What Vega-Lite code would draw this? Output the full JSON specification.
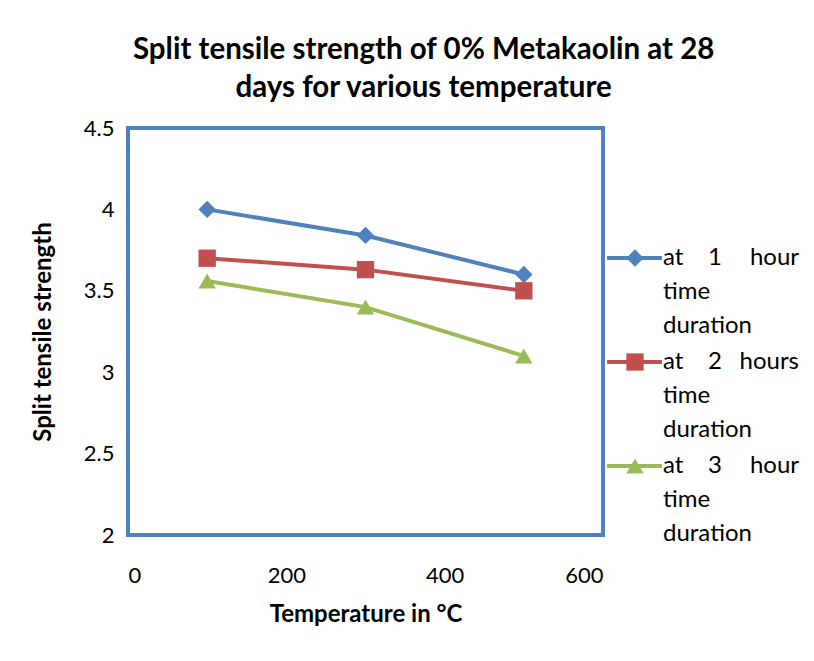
{
  "$schema": "https://vega.github.io/schema/vega-lite/v6.json",
  "background": "white",
  "padding": {"left": 29, "top": 34, "right": 10, "bottom": 10},
  "config": {
    "font": "Lato",
    "axis": {"labelFont": "Lato", "titleFont": "Lato", "labelColor": "black", "titleColor": "black"}
  },
  "title": {
    "text": ["Split tensile strength of 0% Metakaolin at 28", "days for various temperature"],
    "font": "Lato",
    "fontSize": 29.5,
    "fontWeight": "bold",
    "lineHeight": 38,
    "anchor": "middle",
    "frame": "bounds",
    "offset": 12,
    "dx": 6,
    "color": "black"
  },
  "datasets": {
    "main": [
      {"series": "at 1 hour time duration", "temp": 100, "strength": 4.0},
      {"series": "at 1 hour time duration", "temp": 300, "strength": 3.84},
      {"series": "at 1 hour time duration", "temp": 500, "strength": 3.6},
      {"series": "at 2 hours time duration", "temp": 100, "strength": 3.7},
      {"series": "at 2 hours time duration", "temp": 300, "strength": 3.63},
      {"series": "at 2 hours time duration", "temp": 500, "strength": 3.5},
      {"series": "at 3 hour time duration", "temp": 100, "strength": 3.56},
      {"series": "at 3 hour time duration", "temp": 300, "strength": 3.4},
      {"series": "at 3 hour time duration", "temp": 500, "strength": 3.1}
    ],
    "legend": [
      {"series": "at 1 hour time duration", "k": 1, "w1": "at", "w2": "1", "w3": "hour", "rest": ["time", "duration"]},
      {"series": "at 2 hours time duration", "k": 2, "w1": "at", "w2": "2", "w3": "hours", "rest": ["time", "duration"]},
      {"series": "at 3 hour time duration", "k": 3, "w1": "at", "w2": "3", "w3": "hour", "rest": ["time", "duration"]}
    ]
  },
  "spacing": 0,
  "hconcat": [
    {
      "width": 475,
      "height": 407,
      "data": {"name": "main"},
      "view": {"stroke": "#4F81BD", "strokeWidth": 4},
      "layer": [
        {
          "mark": {"type": "line", "strokeWidth": 4},
          "encoding": {
            "x": {"field": "temp", "type": "quantitative"},
            "y": {"field": "strength", "type": "quantitative"},
            "color": {"field": "series", "type": "nominal"}
          }
        },
        {
          "mark": {"type": "point", "filled": true, "opacity": 1, "size": 300},
          "encoding": {
            "x": {
              "field": "temp", "type": "quantitative",
              "scale": {"domain": [0, 600], "nice": false},
              "axis": {
                "values": [0, 200, 400, 600], "domain": false, "ticks": false, "grid": false,
                "labelFontSize": 22, "labelPadding": 30,
                "title": "Temperature in °C", "titleFontSize": 24, "titleFontWeight": "bold", "titlePadding": 16
              }
            },
            "y": {
              "field": "strength", "type": "quantitative",
              "scale": {"domain": [2, 4.5], "nice": false, "zero": false},
              "axis": {
                "values": [2, 2.5, 3, 3.5, 4, 4.5], "format": "~g", "domain": false, "ticks": false, "grid": false,
                "labelFontSize": 22, "labelPadding": 14,
                "title": "Split tensile strength", "titleFontSize": 24, "titleFontWeight": "bold", "titlePadding": 28
              }
            },
            "color": {
              "field": "series", "type": "nominal",
              "scale": {
                "domain": ["at 1 hour time duration", "at 2 hours time duration", "at 3 hour time duration"],
                "range": ["#4F81BD", "#C0504D", "#9BBB59"]
              },
              "legend": null
            },
            "shape": {
              "field": "series", "type": "nominal",
              "scale": {
                "domain": ["at 1 hour time duration", "at 2 hours time duration", "at 3 hour time duration"],
                "range": ["diamond", "square", "triangle-up"]
              },
              "legend": null
            }
          }
        }
      ]
    },
    {
      "width": 200,
      "height": 407,
      "data": {"name": "legend"},
      "view": {"stroke": null},
      "encoding": {
        "y": {"field": "k", "type": "quantitative", "scale": {"domain": [-0.25, 3.663], "reverse": true, "nice": false, "zero": false}, "axis": null}
      },
      "layer": [
        {
          "mark": {"type": "rule", "strokeWidth": 4},
          "encoding": {
            "x": {"datum": 1, "type": "quantitative", "scale": {"domain": [0, 200], "nice": false, "zero": false}, "axis": null},
            "x2": {"datum": 56},
            "color": {"field": "series", "type": "nominal", "legend": null}
          }
        },
        {
          "mark": {"type": "point", "filled": true, "opacity": 1, "size": 300},
          "encoding": {
            "x": {"datum": 29, "type": "quantitative"},
            "color": {"field": "series", "type": "nominal", "legend": null},
            "shape": {"field": "series", "type": "nominal", "legend": null}
          }
        },
        {
          "mark": {"type": "text", "align": "left", "baseline": "middle", "fontSize": 24, "font": "Lato", "color": "black"},
          "encoding": {"x": {"datum": 57, "type": "quantitative"}, "text": {"field": "w1"}}
        },
        {
          "mark": {"type": "text", "align": "center", "baseline": "middle", "fontSize": 24, "font": "Lato", "color": "black"},
          "encoding": {"x": {"datum": 109, "type": "quantitative"}, "text": {"field": "w2"}}
        },
        {
          "mark": {"type": "text", "align": "right", "baseline": "middle", "fontSize": 24, "font": "Lato", "color": "black"},
          "encoding": {"x": {"datum": 193, "type": "quantitative"}, "text": {"field": "w3"}}
        },
        {
          "mark": {"type": "text", "align": "left", "baseline": "middle", "fontSize": 24, "font": "Lato", "color": "black", "lineHeight": 34, "dy": 34},
          "encoding": {"x": {"datum": 57, "type": "quantitative"}, "text": {"field": "rest"}}
        }
      ]
    }
  ]
}
